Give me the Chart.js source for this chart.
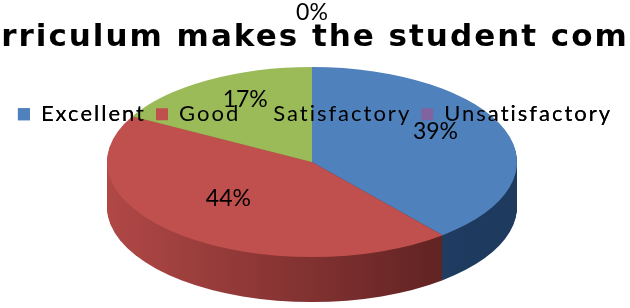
<!DOCTYPE html>
<html>
<head>
<meta charset="utf-8">
<script src="https://cdn.jsdelivr.net/npm/chart.js@4/dist/chart.umd.min.js"></script>
<style>
  html, body { margin: 0; padding: 0; background: #fff; }
  #wrap { width: 630px; height: 308px; }
</style>
</head>
<body>
<div id="wrap"><canvas id="pieChart"></canvas></div>
<script>
const categories = ['Excellent', 'Good', 'Satisfactory', 'Unsatisfactory'];
const percentValues = [39, 44, 17, 0];
const titleText = 'rriculum makes the student com';

const topColors = ['#4f81bd', '#c0504d', '#9bbb59', '#8064a2'];
const sideLeft = ['#34588a', '#b04846', '#7c9644', '#634c80'];
const sideRight = ['#1f3a5f', '#5c2020', '#5a6e30', '#46345c'];

// where the tilted pie sits on the canvas
const view = { cx: 312, cy: 162, rx: 205, ry: 95, depth: 45, labelCy: 152 };
const textSpacing = '2px';

const tilt = (ctx, arc, dy) => {
  const r = arc.outerRadius;
  ctx.translate(view.cx, view.cy + dy);
  ctx.scale(view.rx / r, view.ry / r);
  ctx.translate(-arc.x, -arc.y);
};

const drawFace = (ctx, arc, color, dy) => {
  const face = Object.create(arc);
  face.options = Object.assign({}, arc.options, { backgroundColor: color, borderWidth: 0 });
  ctx.save();
  tilt(ctx, arc, dy);
  face.draw(ctx);
  ctx.restore();
};

// the title and legend text in the original is stretched wide
const wideText = {
  id: 'wideText',
  beforeLayout(chart) {
    chart.ctx.letterSpacing = textSpacing;
  },
  beforeDraw(chart) {
    chart.ctx.letterSpacing = textSpacing;
  },
};

const tiltedPie = {
  id: 'tiltedPie',
  beforeDatasetsDraw(chart) {
    const ctx = chart.ctx;
    const arcs = chart.getDatasetMeta(0).data;
    if (!arcs.length) return false;
    ctx.letterSpacing = '0px';
    const r = arcs[0].outerRadius;
    const toChartX = (X) => arcs[0].x + (X - view.cx) * r / view.rx;

    const sides = arcs.map((arc, i) => {
      const g = ctx.createLinearGradient(toChartX(view.cx - view.rx), 0, toChartX(view.cx + view.rx * 0.75), 0);
      g.addColorStop(0, sideLeft[i]);
      g.addColorStop(1, sideRight[i]);
      return g;
    });

    for (let d = view.depth; d >= 1; d--) {
      arcs.forEach((arc, i) => {
        if (percentValues[i] > 0) drawFace(ctx, arc, sides[i], d);
      });
    }
    arcs.forEach((arc, i) => {
      if (percentValues[i] > 0) drawFace(ctx, arc, topColors[i], 0);
    });

    // percentage labels
    ctx.save();
    ctx.font = '23px Lato, "Open Sans", sans-serif';
    ctx.fillStyle = '#000';
    ctx.textAlign = 'center';
    ctx.textBaseline = 'middle';
    arcs.forEach((arc, i) => {
      const mid = (arc.startAngle + arc.endAngle) / 2;
      const f = percentValues[i] > 0 ? 0.64 : 1.47;
      const x = view.cx + Math.cos(mid) * view.rx * f;
      const y = view.labelCy + Math.sin(mid) * view.ry * f;
      ctx.fillText(percentValues[i] + '%', x, y);
    });
    ctx.restore();

    // the legend sits on top of the pie in the original
    ctx.letterSpacing = textSpacing;
    if (chart.legend) chart.legend.draw();
    return false;
  },
};

new Chart(document.getElementById('pieChart'), {
  type: 'pie',
  data: {
    labels: categories,
    datasets: [
      {
        data: percentValues,
        backgroundColor: topColors,
        borderWidth: 0,
      },
    ],
  },
  options: {
    responsive: true,
    maintainAspectRatio: false,
    animation: false,
    plugins: {
      title: {
        display: true,
        text: titleText,
        color: '#000',
        font: { family: '"DejaVu Sans", sans-serif', size: 31, weight: 'bold' },
        padding: { top: 19, bottom: 37 },
      },
      legend: {
        position: 'top',
        labels: {
          color: '#000',
          font: { family: 'Lato, "Open Sans", sans-serif', size: 22 },
          boxWidth: 12,
          boxHeight: 12,
          padding: 10,
        },
      },
      tooltip: { enabled: false },
    },
  },
  plugins: [wideText, tiltedPie],
});
</script>
</body>
</html>
